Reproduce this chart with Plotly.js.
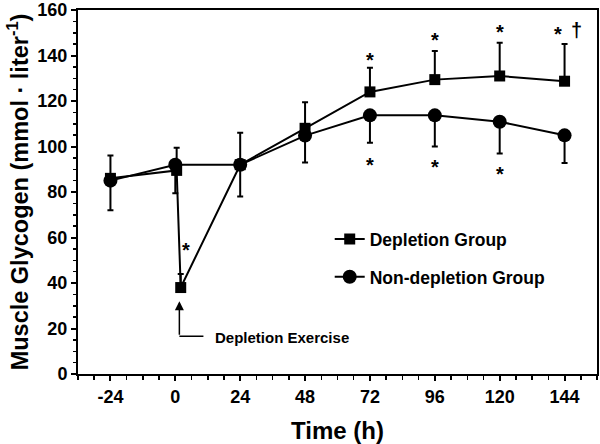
<!DOCTYPE html>
<html>
<head>
<meta charset="utf-8">
<script src="https://cdn.plot.ly/plotly-3.0.1.min.js"></script>
<style>html,body{margin:0;padding:0;background:#fff}#chart{width:600px;height:444px}</style>
</head>
<body>
<div id="chart"></div>
<script>
// Data
const depX     = [-24, 0.5, 2, 24, 48, 72, 96, 120, 144];
const depY     = [86, 89.5, 38, 92, 108, 124, 129.4, 131, 128.7];
const depErrUp = [10, 10, 6, 14, 11.5, 10.6, 12.6, 14.6, 16.4];

const nonX       = [-24, 0, 24, 48, 72, 96, 120, 144];
const nonY       = [85, 92, 92, 104.8, 113.7, 113.7, 110.9, 104.9];
const nonErrDown = [13, 12.5, 14, 11.8, 12, 13.7, 14, 12.2];

const xTicks = [-24, 0, 24, 48, 72, 96, 120, 144];
const xTickText = ['-24', '0', '24', '48', '72', '96', '120', '144'];

// significance markers
const starX = [72, 96, 120, 141.4, 72, 96, 120, 4];
const starY = [138, 147, 150.3, 149.4, 91.8, 90.8, 87.9, 54.6];

const FONT = 'Liberation Sans, Arial, sans-serif';

const traces = [
  {
    x: depX, y: depY, name: 'Depletion Group', type: 'scatter', mode: 'lines+markers',
    legendgroup: 'a',
    line: {color: '#000', width: 2},
    marker: {symbol: 'square', size: 11, color: '#000'},
    error_y: {type: 'data', symmetric: false, array: depErrUp, arrayminus: depErrUp.map(() => 0),
              color: '#000', thickness: 2, width: 3}
  },
  {
    x: nonX, y: nonY, name: 'Non-depletion Group', type: 'scatter', mode: 'lines+markers',
    legendgroup: 'b',
    line: {color: '#000', width: 2},
    marker: {symbol: 'circle', size: 14, color: '#000'},
    error_y: {type: 'data', symmetric: false, array: nonErrDown.map(() => 0), arrayminus: nonErrDown,
              color: '#000', thickness: 2, width: 3}
  }
];

const annotations = starX.map((x, i) => ({
  x: x, y: starY[i], xref: 'x', yref: 'y', text: '*', showarrow: false,
  font: {family: FONT, size: 20, color: '#000', weight: 'bold'}
}));
annotations.push({x: 148.3, y: 151, xref: 'x', yref: 'y', text: '†', showarrow: false,
  font: {family: FONT, size: 20, color: '#000', weight: 'bold'}});
// arrow for depletion exercise
annotations.push({x: 1.5, y: 32, xref: 'x', yref: 'y', ax: 1.5, ay: 16.6, axref: 'x', ayref: 'y',
  text: '', showarrow: true, arrowhead: 2, arrowsize: 1.2, arrowwidth: 1.5, arrowcolor: '#000'});
annotations.push({x: 13.8, y: 16.2, xref: 'x', yref: 'y', text: 'Depletion Exercise', showarrow: false,
  xanchor: 'left', yanchor: 'middle', font: {family: FONT, size: 15, color: '#000', weight: 'bold'}});

const layout = {
  width: 600, height: 444,
  margin: {l: 78, r: 3, t: 10, b: 70},
  paper_bgcolor: '#fff', plot_bgcolor: '#fff',
  font: {family: FONT, color: '#000', weight: 'bold'},
  showlegend: true,
  legend: {x: 0.485, y: 0.42, xanchor: 'left', yanchor: 'top', traceorder: 'grouped',
           tracegroupgap: 12, bgcolor: 'rgba(0,0,0,0)',
           font: {family: FONT, size: 17.5, color: '#000', weight: 'bold'}},
  xaxis: {
    range: [-36, 156], tickmode: 'array', tickvals: xTicks, ticktext: xTickText,
    showgrid: false, zeroline: false, showline: true, linecolor: '#000', linewidth: 2, mirror: true,
    ticks: 'outside', ticklen: 5, tickwidth: 2, tickcolor: '#000',
    tickfont: {family: FONT, size: 18, weight: 'bold'},
    minor: {dtick: 6, tick0: 0, ticks: 'outside', ticklen: 4, tickwidth: 1.5, tickcolor: '#000', showgrid: false},
    title: {text: 'Time (h)', font: {family: FONT, size: 24, weight: 'bold'}, standoff: 17}
  },
  yaxis: {
    range: [0, 160], dtick: 20, tick0: 0, ticklabeloverflow: 'allow',
    showgrid: false, zeroline: false, showline: true, linecolor: '#000', linewidth: 2, mirror: true,
    ticks: 'outside', ticklen: 5, tickwidth: 2, tickcolor: '#000',
    tickfont: {family: FONT, size: 18, weight: 'bold'},
    minor: {dtick: 5, ticks: 'outside', ticklen: 3, tickwidth: 1.5, tickcolor: '#000', showgrid: false},
    title: {text: 'Muscle Glycogen (mmol · liter<sup>-1</sup>)', font: {family: FONT, size: 23.5, weight: 'bold'}, standoff: 2}
  },
  shapes: [
    {type: 'line', xref: 'x', yref: 'y', x0: 1.5, y0: 16.6, x1: 10.4, y1: 16.6, line: {color: '#000', width: 1.5}}
  ],
  annotations: annotations
};

Plotly.newPlot('chart', traces, layout, {displayModeBar: false, staticPlot: true});
</script>
</body>
</html>
